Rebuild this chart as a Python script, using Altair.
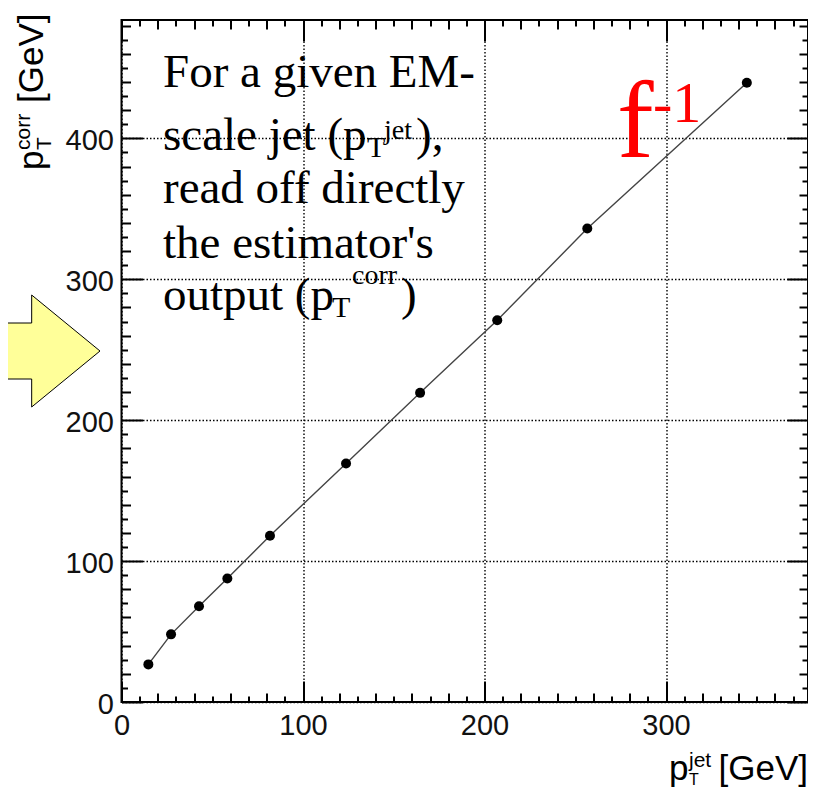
import altair as alt
import pandas as pd

# ---- data ----
pt_jet = [14.8, 27.3, 42.7, 58.3, 81.8, 123.7, 164.5, 207.0, 256.6, 344.5]
pt_corr = [26.7, 48.0, 67.9, 87.7, 118.0, 169.3, 219.4, 270.9, 336.0, 439.5]

x_labels = [0, 100, 200, 300]
y_labels = [0, 100, 200, 300, 400]
x_major = [0, 100, 200, 300]
x_medium = [v for v in range(20, 371, 20) if v % 100 != 0]
x_minor = [v for v in range(10, 371, 20)]
y_major = [0, 100, 200, 300, 400]
y_medium = [v for v in range(20, 484, 20) if v % 100 != 0]
y_minor = [v for v in range(10, 484, 20)]

X_MAX = 378.2
Y_MAX = 484
W = 686.5
H = 682
OX, OY = 121.5, 20  # page position of plot origin

xs = alt.Scale(domain=[0, X_MAX], nice=False, zero=False)
ys = alt.Scale(domain=[0, Y_MAX], nice=False, zero=False)

df = pd.DataFrame({"x": pt_jet, "y": pt_corr})
one = pd.DataFrame({"k": [0]})

LABEL_FONT = "Liberation Sans"
SERIF = "Liberation Serif"

# layer carrying tick labels + dotted grid
labels_layer = alt.Chart(df).mark_point(opacity=0).encode(
    x=alt.X("x:Q", scale=xs, axis=alt.Axis(
        values=x_labels, title=None, ticks=False, tickSize=0, domain=False,
        labelFont=LABEL_FONT, labelFontSize=29, labelColor="#111111",
        labelPadding=9, labelFlush=False, labelOverlap=False,
        grid=True, gridColor="black", gridDash=[1.5, 2], gridWidth=1.4, gridOpacity=1)),
    y=alt.Y("y:Q", scale=ys, axis=alt.Axis(
        values=y_labels, title=None, ticks=False, tickSize=0, domain=False,
        labelFont=LABEL_FONT, labelFontSize=29, labelColor="#111111",
        labelPadding=8, labelFlush=False, labelOverlap=False, labelOffset=2,
        grid=True, gridColor="black", gridDash=[1.5, 2], gridWidth=1.4, gridOpacity=1)),
)


def tick_axis(vals, ln, orient):
    # inward-pointing ticks: an axis pulled inside the frame by its own tick length
    return alt.Axis(orient=orient, values=vals, tickSize=ln, offset=-ln,
                    labels=False, domain=False, grid=False, title=None,
                    ticks=True, tickColor="black", tickWidth=2, tickOpacity=1)


def x_tick_layer(vals, ln, orient):
    return alt.Chart(df).mark_point(opacity=0).encode(
        x=alt.X("x:Q", scale=xs, axis=tick_axis(vals, ln, orient)),
        y=alt.Y("y:Q", scale=ys, axis=None))


def y_tick_layer(vals, ln, orient):
    return alt.Chart(df).mark_point(opacity=0).encode(
        x=alt.X("x:Q", scale=xs, axis=None),
        y=alt.Y("y:Q", scale=ys, axis=tick_axis(vals, ln, orient)))


tick_layers = []
for orient in ("bottom", "top"):
    tick_layers += [x_tick_layer(x_major, 21, orient),
                    x_tick_layer(x_medium, 9, orient),
                    x_tick_layer(x_minor, 6, orient)]
for orient in ("left", "right"):
    tick_layers += [y_tick_layer(y_major, 21, orient),
                    y_tick_layer(y_medium, 9, orient),
                    y_tick_layer(y_minor, 6, orient)]

line = alt.Chart(df).mark_line(color="#444444", strokeWidth=1.4).encode(
    x=alt.X("x:Q", scale=xs, axis=None), y=alt.Y("y:Q", scale=ys, axis=None))
pts = alt.Chart(df).mark_circle(color="black", opacity=1, size=100).encode(
    x=alt.X("x:Q", scale=xs, axis=None), y=alt.Y("y:Q", scale=ys, axis=None))


def txt(s, px, py, size, font=SERIF, color="black", angle=0, align="left"):
    kw = dict(text=s, font=font, fontSize=size, color=color, align=align,
              baseline="alphabetic")
    if angle:
        kw["angle"] = angle
    return alt.Chart(one).mark_text(**kw).encode(
        x=alt.value(px - OX), y=alt.value(py - OY))


texts = [
    # explanatory text block
    txt("For a given EM-", 163, 87, 47),
    txt("scale jet (p", 163, 150, 47),
    txt("jet", 384, 139, 28),
    txt("T", 367, 157, 30),
    txt("),", 416, 150, 47),
    txt("read off directly", 163, 203, 47),
    txt("the estimator's", 163, 258, 47),
    txt("output (p", 163, 310, 47),
    txt("T", 332, 317, 30),
    txt("corr", 352, 284, 28),
    txt(")", 401, 310, 47),
    # f^-1
    txt("f", 617, 157, 110, color="red"),
    txt("-1", 653, 122, 58, color="red"),
    # x title
    txt("p", 669, 780, 35, font=LABEL_FONT),
    txt("jet", 689, 767, 21, font=LABEL_FONT),
    txt("T", 689, 785, 16, font=LABEL_FONT),
    txt("[GeV]", 808, 780, 35, font=LABEL_FONT, align="right"),
    # y title (rotated)
    txt("p", 43, 170, 35, font=LABEL_FONT, angle=270),
    txt("T", 51, 150, 21, font=LABEL_FONT, angle=270),
    txt("corr", 30, 150, 21, font=LABEL_FONT, angle=270),
    txt("[GeV]", 43, 103, 35, font=LABEL_FONT, angle=270),
]

ARROW = "M -1 -0.5 L -0.22 -0.5 L -0.22 -1 L 1 0 L -0.22 1 L -0.22 0.5 L -1 0.5 Z"
arrow = alt.Chart(one).mark_point(
    shape=ARROW, filled=True, fill="#ffff99", stroke="black", strokeWidth=1,
    opacity=1, fillOpacity=1, size=112 * 112).encode(
    x=alt.value(44 - OX), y=alt.value(351 - OY))

chart = alt.layer(labels_layer, *tick_layers, line, pts, arrow, *texts).resolve_axis(
    x="independent", y="independent"
).properties(
    width=W, height=H,
    autosize=alt.AutoSizeParams(type="none"),
    padding={"left": 113.5, "top": 12, "right": 0, "bottom": 85},
).configure_view(stroke="black", strokeWidth=2)

chart.save("out.html", embed_options={"renderer": "svg", "actions": False})
